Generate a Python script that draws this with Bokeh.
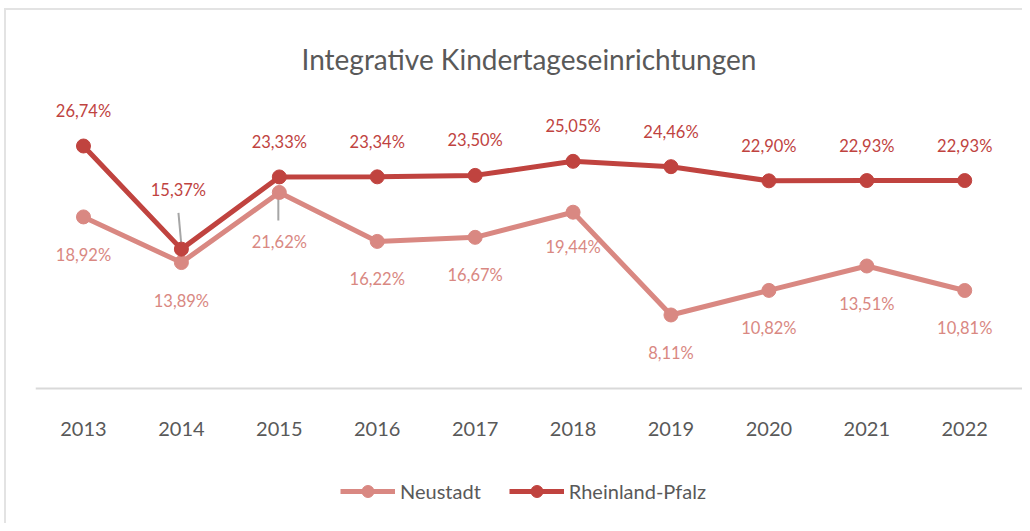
from bokeh.plotting import figure
from bokeh.models import ColumnDataSource, Range1d, Legend, LegendItem, FixedTicker
from bokeh.core.properties import value
from bokeh.embed import file_html
from bokeh.resources import INLINE

# ---- data ----
years = [2013, 2014, 2015, 2016, 2017, 2018, 2019, 2020, 2021, 2022]
neustadt = [18.92, 13.89, 21.62, 16.22, 16.67, 19.44, 8.11, 10.82, 13.51, 10.81]
rlp = [26.74, 15.37, 23.33, 23.34, 23.50, 25.05, 24.46, 22.90, 22.93, 22.93]
title_text = "Integrative Kindertageseinrichtungen"
series_names = ["Neustadt", "Rheinland-Pfalz"]

FONT = "Lato"
C_NEU = "#D98882"
C_RLP = "#C0433F"
GREY = "#595959"

def fmt(v):
    return f"{v:.2f}".replace(".", ",") + "%"

# label offsets (screen px) - styling, not data
neu_dx = [0] * len(years)
neu_dy = [38] * len(years)
neu_dy[years.index(2015)] = 50
neu_dy[years.index(2018)] = 35
rlp_dx = [0] * len(years)
rlp_dy = [-35] * len(years)
rlp_dy[years.index(2014)] = -59
rlp_dx[years.index(2014)] = -3

src_neu = ColumnDataSource(dict(x=years, y=neustadt, lab=[fmt(v) for v in neustadt], dx=neu_dx, dy=neu_dy))
src_rlp = ColumnDataSource(dict(x=years, y=rlp, lab=[fmt(v) for v in rlp], dx=rlp_dx, dy=rlp_dy))

p = figure(width=1022, height=523, output_backend="svg", toolbar_location=None,
           x_range=Range1d(2012.51, 2022.59), y_range=Range1d(-14.88, 33.19),
           min_border_left=35, min_border_right=0, min_border_top=87, min_border_bottom=0,
           title=title_text)

# light frame border (drawn by the page behind a transparent canvas)
p.border_fill_color = None
p.background_fill_color = None
p.styles = {
    "background-color": "white",
    "background-image": "linear-gradient(#E3E3E3, #E3E3E3), linear-gradient(#E3E3E3, #E3E3E3)",
    "background-size": "2px 100%, 100% 2px",
    "background-position": "4px 8px, 4px 8px",
    "background-repeat": "no-repeat",
}

p.title.align = "center"
p.title.text_font = FONT
p.title.text_font_size = "28px"
p.title.text_font_style = "normal"
p.title.text_color = GREY
p.title.standoff = 24

p.outline_line_color = None
p.xgrid.grid_line_color = None
p.ygrid.grid_line_color = None
p.yaxis.visible = False

xa = p.xaxis[0]
xa.fixed_location = 0
xa.ticker = FixedTicker(ticks=years)
xa.axis_line_color = "#D9D9D9"
xa.axis_line_width = 2
xa.major_tick_line_color = None
xa.minor_tick_line_color = None
xa.major_tick_out = 0
xa.major_tick_in = 0
xa.major_label_standoff = 33
xa.major_label_text_font = FONT
xa.major_label_text_font_size = "20px"
xa.major_label_text_color = GREY

# leader lines (derived from data values)
i14 = years.index(2014)
i15 = years.index(2015)
p.segment(x0=[years[i14] - 0.03], y0=[rlp[i14] + 4.0], x1=[years[i14]], y1=[rlp[i14] + 0.4],
          line_color="#A6A6A6", line_width=2)
p.segment(x0=[years[i15] - 0.01], y0=[neustadt[i15] - 0.4], x1=[years[i15] - 0.01], y1=[neustadt[i15] - 3.1],
          line_color="#A6A6A6", line_width=2)

l_neu = p.line("x", "y", source=src_neu, line_color=C_NEU, line_width=5)
s_neu = p.scatter("x", "y", source=src_neu, size=14, fill_color=C_NEU, line_color=C_NEU)
l_rlp = p.line("x", "y", source=src_rlp, line_color=C_RLP, line_width=5)
s_rlp = p.scatter("x", "y", source=src_rlp, size=14, fill_color=C_RLP, line_color=C_RLP)

p.text("x", "y", text="lab", source=src_neu, x_offset="dx", y_offset="dy",
       text_align="center", text_baseline="middle", text_color=C_NEU,
       text_font=value(FONT), text_font_size="16.5px")
p.text("x", "y", text="lab", source=src_rlp, x_offset="dx", y_offset="dy",
       text_align="center", text_baseline="middle", text_color=C_RLP,
       text_font=value(FONT), text_font_size="16.5px")

legend = Legend(items=[LegendItem(label=series_names[0], renderers=[l_neu, s_neu]),
                       LegendItem(label=series_names[1], renderers=[l_rlp, s_rlp])],
                orientation="horizontal", location=(305, 17))
legend.label_text_font = FONT
legend.label_text_font_size = "20px"
legend.label_text_color = GREY
legend.glyph_width = 55
legend.glyph_height = 30
legend.label_standoff = 5
legend.spacing = 28
legend.border_line_color = None
legend.background_fill_alpha = 0
legend.margin = 0
legend.padding = 0
p.add_layout(legend)

open("out.html", "w").write(file_html(p, INLINE))
